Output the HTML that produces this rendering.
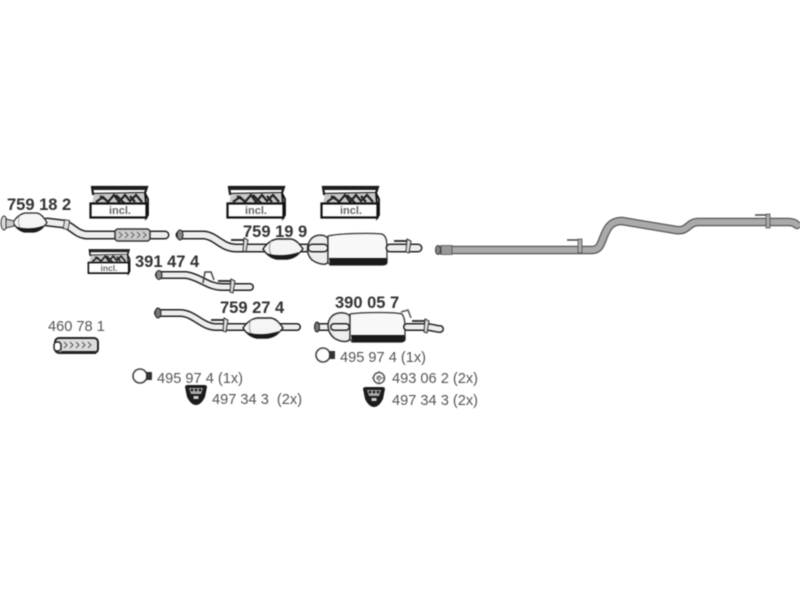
<!DOCTYPE html>
<html><head><meta charset="utf-8"><style>
html,body{margin:0;padding:0;background:#fff;width:800px;height:600px;overflow:hidden}
svg{display:block;filter:blur(.45px)}
text{font-family:"Liberation Sans",sans-serif;fill:#444}
.b{font-weight:bold;font-size:16.500px;fill:#333}
.r{font-size:14.600px;fill:#555}
.i{font-weight:bold;font-size:11px;fill:#666;text-anchor:middle}
.d{fill:none;stroke:#222;stroke-linecap:round;stroke-linejoin:round}
.l{fill:none;stroke:#eee;stroke-linecap:round;stroke-linejoin:round}
</style></head><body>
<svg width="800" height="600" viewBox="0 0 800 600" xmlns="http://www.w3.org/2000/svg">
<defs>
<g id="box">
<path d="M2 0H57L55 6L3 7Z" fill="#fff" stroke="#1a1a1a" stroke-width="2.200"/>
<path d="M3 2H56" stroke="#222" stroke-width="2"/>
<path d="M4 7L55 6L57 17H2Z" fill="#c8c8c8"/>
<path d="M6 15l7-5 5 5 6-7 5 7 6-7 5 6 6-6 6 7M10 9l9 6M26 8l8 8M40 9l5 6" stroke="#222" stroke-width="2.200" fill="none"/>
<path d="M55 6L58 12V28L56 31V17Z" fill="#ddd" stroke="#111" stroke-width="1.800"/>
<rect x="0.500" y="16.500" width="56" height="14" fill="#fff" stroke="#111" stroke-width="2.200"/>
</g>
<g id="clip"><path d="M0 1H13V7" fill="none" stroke="#333" stroke-width="2"/><path d="M13 -1L17 1L15 13L12 12Z" fill="#ddd" stroke="#333" stroke-width="1"/></g>
<g id="brk"><path d="M0 2Q0 0 3 0H19Q22 0 22 2L20 12Q16 20 11 20Q6 20 2 12Z" fill="#1c1c1c"/><path d="M4 3H18L16 9H6Z" fill="#aaa"/><circle cx="7" cy="5" r="1.300" fill="#111"/><circle cx="11" cy="5" r="1.300" fill="#111"/><circle cx="15" cy="5" r="1.300" fill="#111"/><rect x="8.500" y="11" width="5" height="3" fill="#ccc"/></g>
<g id="clamp"><circle cx="0" cy="0" r="7" fill="#fff" stroke="#444" stroke-width="1.600"/><rect x="6" y="-4" width="6" height="8" fill="#333"/></g>
<g id="cat"><path d="M0 10C4 4 8 1 14 0H28C34 1 37 6 40 10C36 15 32 19 24 20H14C8 19 3 15 0 10Z" fill="#f5f5f5" stroke="#222" stroke-width="1.400"/><path d="M4 14C10 17 26 17 36 13C32 19 28 20.500 22 20.500H14C10 20 7 18 4 14Z" fill="#1a1a1a"/><path d="M8 2C6 6 6 12 8 15" fill="none" stroke="#999"/></g>
</defs>

<use href="#box" x="90" y="187"/><text class="i" x="120" y="214">incl.</text>
<use href="#box" x="227" y="187"/><text class="i" x="256" y="214">incl.</text>
<use href="#box" x="321" y="187"/><text class="i" x="351" y="214">incl.</text>
<g transform="translate(88 250) scale(.72 .76)"><use href="#box"/></g>
<text class="i" x="109" y="271" style="font-size:8.500px">incl.</text>

<text class="b" x="7" y="210">759 18 2</text>
<text class="b" x="135" y="267">391 47 4</text>
<text class="b" x="243" y="237">759 19 9</text>
<text class="b" x="220" y="313">759 27 4</text>
<text class="b" x="335" y="308">390 05 7</text>
<text class="r" x="48" y="331">460 78 1</text>
<text class="r" x="157" y="383">495 97 4 (1x)</text>
<text class="r" x="212" y="404">497 34 3&#160; (2x)</text>
<text class="r" x="340" y="362">495 97 4 (1x)</text>
<text class="r" x="392" y="383">493 06 2 (2x)</text>
<text class="r" x="392" y="405">497 34 3 (2x)</text>

<!-- 759 18 2 -->
<path class="d" stroke-width="9" d="M47 222L64 224C72 226 76 234 86 235H165"/>
<path class="l" stroke-width="6" d="M47 222L64 224C72 226 76 234 86 235H165"/>
<use href="#cat" transform="translate(13 213) scale(.85 .95)"/>
<ellipse cx="4" cy="223" rx="3" ry="7" fill="#ddd" stroke="#333"/><path d="M6 219L14 221V226L6 228Z" fill="#ccc" stroke="#333"/>
<rect x="64" y="220" width="5" height="9" fill="#ddd" stroke="#444" transform="rotate(10 66 224)"/>
<rect x="115" y="229" width="35" height="12" rx="3" fill="#ccc" stroke="#333" stroke-width="1.500"/>
<path d="M119 232l3 3-3 3m6-6l3 3-3 3m6-6l3 3-3 3m6-6l3 3-3 3m6-6l3 3-3 3" fill="none" stroke="#666"/>

<!-- 759 19 9 -->
<path class="d" stroke-width="9" d="M180 235H204C216 236 222 248 236 248H322"/>
<path class="l" stroke-width="6" d="M180 235H204C216 236 222 248 236 248H322"/>
<ellipse cx="180" cy="235" rx="3" ry="5" fill="#888" stroke="#222"/>
<use href="#cat" x="263" y="239"/>
<use href="#clip" x="231" y="239"/>
<path d="M312 238C318 233 328 235 328 240V262C326 266 318 264 312 260C306 254 306 244 312 238Z" fill="#eee" stroke="#333" stroke-width="1.500"/>
<path d="M328 236C340 233 372 233 382 234C386 236 387 240 387 248V262C387 264 386 265 380 265H330L328 262Z" fill="#f8f8f8" stroke="#333" stroke-width="1.300"/>
<path d="M329 258H387V262C387 264 386 265 380 265H330Z" fill="#1a1a1a"/>
<path class="d" stroke-width="9" d="M312 248H324"/><path class="l" stroke-width="6" d="M312 248H324"/>
<path class="d" stroke-width="9" d="M390 248H418"/><path class="l" stroke-width="6" d="M390 248H418"/>
<use href="#clip" x="394" y="240"/>

<!-- 391 47 4 -->
<path class="d" stroke-width="8" d="M159 275H186C200 277 208 287 222 287H250"/>
<path class="l" stroke-width="5" d="M159 275H186C200 277 208 287 222 287H250"/>
<ellipse cx="159" cy="275" rx="3" ry="4.500" fill="#888" stroke="#222"/>
<path d="M203 283L205 272H211L214 280" fill="none" stroke="#444" stroke-width="1.500"/>
<use href="#clip" x="218" y="280"/>

<!-- 759 27 4 -->
<path class="d" stroke-width="8" d="M158 313H180C194 313 202 327 216 327H297"/>
<path class="l" stroke-width="5" d="M158 313H180C194 313 202 327 216 327H297"/>
<ellipse cx="158" cy="313" rx="3" ry="5" fill="#777" stroke="#222"/>
<use href="#cat" x="243" y="318"/>
<use href="#clip" x="211" y="319"/>

<!-- 460 78 1 -->
<rect x="55" y="338" width="43" height="15" rx="4" fill="#ddd" stroke="#222" stroke-width="2"/>
<rect x="54" y="342" width="7" height="9" rx="3" fill="#fff" stroke="#222" stroke-width="1.500"/>
<path d="M64 342l3 3-3 3m6-6l3 3-3 3m6-6l3 3-3 3m6-6l3 3-3 3m6-6l3 3-3 3" fill="none" stroke="#555"/>
<rect x="61" y="351" width="35" height="3" fill="#222"/>

<!-- 390 05 7 -->
<path class="d" stroke-width="8" d="M318 327H342"/><path class="l" stroke-width="5" d="M318 327H342"/>
<ellipse cx="317" cy="327" rx="2.500" ry="5" fill="#777" stroke="#222"/>
<path d="M332 316C338 311 350 312 350 318V339C348 343 340 342 334 338C327 332 326 322 332 316Z" fill="#eee" stroke="#333" stroke-width="1.500"/>
<path class="d" stroke-width="8" d="M334 327H346"/><path class="l" stroke-width="5" d="M334 327H346"/>
<path d="M350 314C362 312 395 312 402 314C405 318 405 322 405 334V340C404 342 402 342 398 342H352L350 339Z" fill="#f8f8f8" stroke="#333" stroke-width="1.300"/>
<path d="M351 335H405V340C404 342 402 342 398 342H352Z" fill="#1a1a1a"/>
<path class="d" stroke-width="8" d="M407 327H426C432 327 436 329 440 329"/><path class="l" stroke-width="5" d="M407 327H426C432 327 436 329 440 329"/>
<use href="#clip" x="412" y="320"/>
<path d="M401 312L408 310L411 318" fill="none" stroke="#555" stroke-width="1.500"/>

<!-- rear pipe -->
<path fill="none" stroke="#555" stroke-width="8.500" stroke-linecap="round" stroke-linejoin="round" d="M440 250H592C600 250 601 243 604 236C608 226 612 221 622 221L676 230C688 232 688 222 698 222H788C793 222 795 223 797 225"/>
<path fill="none" stroke="#aaa" stroke-width="6" stroke-linecap="round" stroke-linejoin="round" d="M440 250H592C600 250 601 243 604 236C608 226 612 221 622 221L676 230C688 232 688 222 698 222H788C793 222 795 223 797 225"/>
<ellipse cx="438" cy="250" rx="2.500" ry="4.500" fill="#888" stroke="#333"/>
<rect x="441" y="245.500" width="11" height="9" fill="#999" stroke="#444" stroke-width=".7"/>
<g transform="translate(567 239)"><path d="M0 1H14V10" fill="none" stroke="#444" stroke-width="1.500"/><rect x="11" y="0" width="4" height="14" fill="#aaa" stroke="#444" stroke-width=".7"/></g>
<g transform="translate(755 214)"><path d="M0 1H14V10" fill="none" stroke="#444" stroke-width="1.500"/><rect x="11" y="0" width="4" height="14" fill="#aaa" stroke="#444" stroke-width=".7"/></g>

<use href="#clamp" x="140" y="376"/>
<use href="#clamp" x="323" y="355"/>
<use href="#brk" x="185" y="385"/>
<use href="#brk" x="363" y="387"/>
<circle cx="379" cy="378" r="5.500" fill="#fff" stroke="#555" stroke-width="1.500"/>
<circle cx="379" cy="378" r="2" fill="none" stroke="#555"/>
<path d="M379 371v14M372 378h14" stroke="#666" stroke-width="1" stroke-dasharray="2 3"/>
</svg>
</body></html>
